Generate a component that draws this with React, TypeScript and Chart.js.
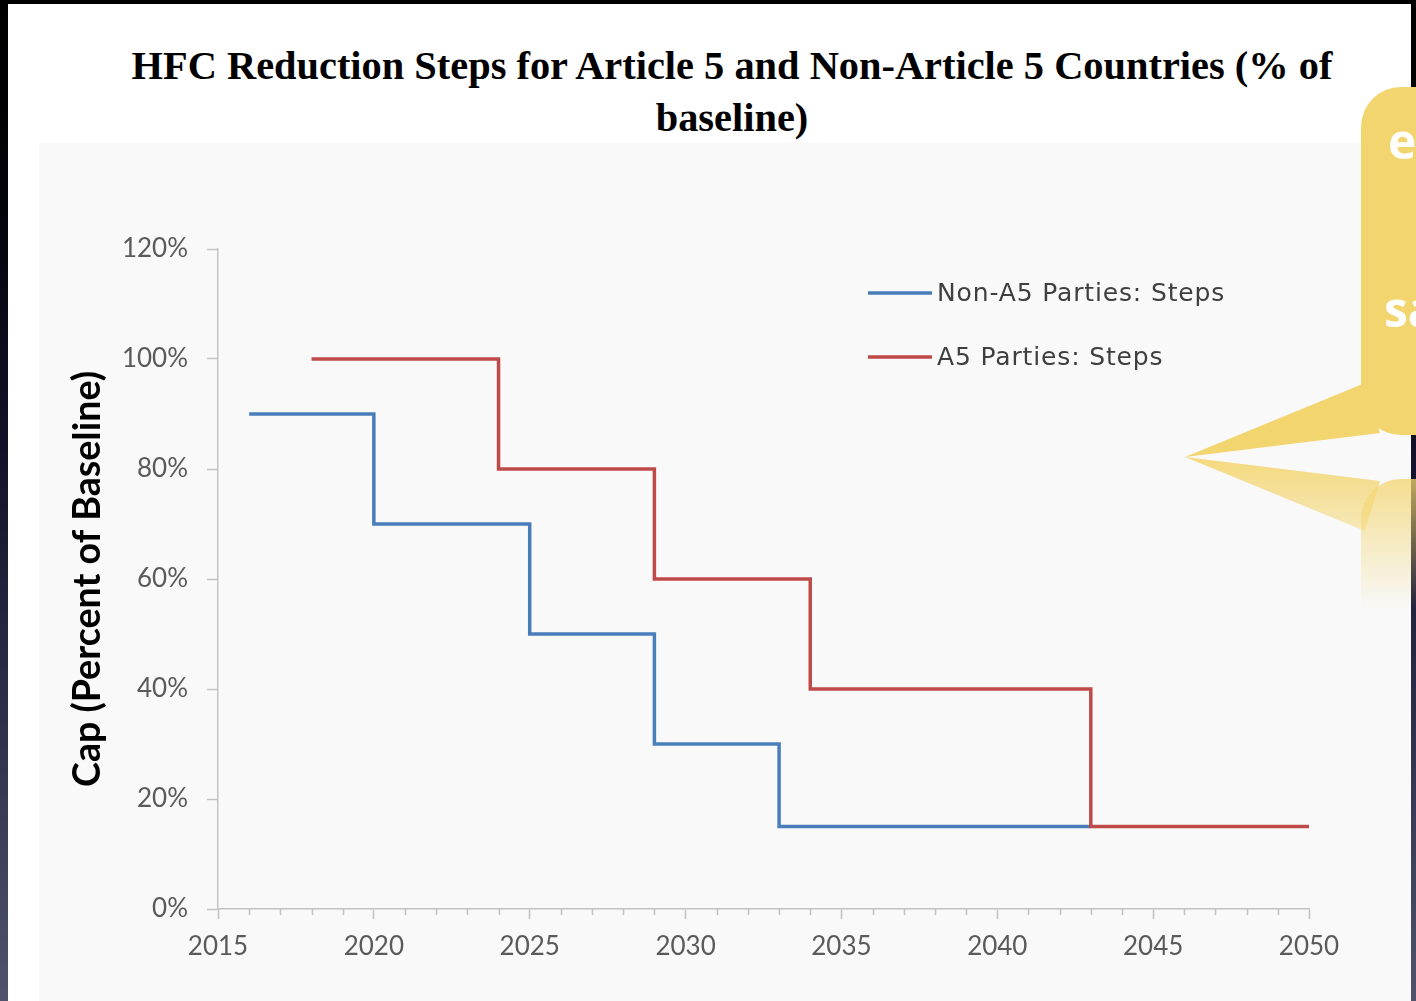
import React, { useEffect, useRef } from "react";
import { Chart, registerables } from "chart.js";

Chart.register(...registerables);

// ---- text ----
const TITLE_LINES = [
  "HFC Reduction Steps for Article 5 and Non-Article 5 Countries (% of",
  "baseline)",
];
const Y_TITLE = "Cap (Percent of Baseline)";
const SERIES_LABELS = ["Non-A5 Parties: Steps", "A5 Parties: Steps"];
const BUBBLE_TEXT = ["e", "sa"];

// ---- data (year at which a cap starts, cap in % of baseline) ----
const nonA5Years = [2016, 2020, 2025, 2029, 2033, 2043];
const nonA5Caps = [90, 70, 50, 30, 15, 15];
const a5Years = [2018, 2024, 2029, 2034, 2043, 2050];
const a5Caps = [100, 80, 60, 40, 15, 15];

// ---- axes ----
const xRange = [2015, 2050];
const xLabelYears = [2015, 2020, 2025, 2030, 2035, 2040, 2045, 2050];
const yTickValues = [0, 20, 40, 60, 80, 100, 120];

const BLUE = "#4a7ebb";
const RED = "#be4b48";
const AXIS = "#c3c3c3";
const TICK_TEXT = "#5a5a5a";

export default function App() {
  const canvasRef = useRef<HTMLCanvasElement | null>(null);

  useEffect(() => {
    document.body.style.margin = "0";
    const canvas = canvasRef.current;
    if (!canvas) return;

    const minorTicks = {
      id: "minorTicks",
      afterDraw(chart: any) {
        const s = chart.scales.x;
        const ctx = chart.ctx;
        ctx.save();
        ctx.strokeStyle = AXIS;
        ctx.lineWidth = 1.5;
        s.ticks.forEach((t: any) => {
          if (xLabelYears.includes(t.value)) return;
          const x = Math.round(s.getPixelForValue(t.value)) + 0.5;
          ctx.beginPath();
          ctx.moveTo(x, s.top);
          ctx.lineTo(x, s.top + 6);
          ctx.stroke();
        });
        ctx.restore();
      },
    };

    const legendPlugin = {
      id: "insideLegend",
      afterDraw(chart: any) {
        const { ctx, chartArea } = chart;
        ctx.save();
        chart.data.datasets.forEach((ds: any, i: number) => {
          const y = chartArea.top + 44 + i * 64;
          const x0 = chartArea.left + 650;
          ctx.strokeStyle = ds.borderColor;
          ctx.lineWidth = 3.5;
          ctx.beginPath();
          ctx.moveTo(x0, y);
          ctx.lineTo(x0 + 64, y);
          ctx.stroke();
          ctx.fillStyle = "#3f3f3f";
          ctx.font = "25px 'DejaVu Sans'";
          (ctx as any).letterSpacing = "0.85px";
          ctx.textBaseline = "middle";
          ctx.textAlign = "left";
          ctx.fillText(ds.label, x0 + 69, y + 1);
        });
        ctx.restore();
      },
    };

    const chart = new Chart(canvas, {
      type: "line",
      data: {
        datasets: [
          {
            label: SERIES_LABELS[0],
            data: nonA5Years.map((x, i) => ({ x, y: nonA5Caps[i] })),
            borderColor: BLUE,
            backgroundColor: BLUE,
            borderWidth: 3.5,
            stepped: "before",
            pointRadius: 0,
            fill: false,
            order: 1,
          },
          {
            label: SERIES_LABELS[1],
            data: a5Years.map((x, i) => ({ x, y: a5Caps[i] })),
            borderColor: RED,
            backgroundColor: RED,
            borderWidth: 3.5,
            stepped: "before",
            pointRadius: 0,
            fill: false,
            order: 0,
          },
        ],
      },
      options: {
        responsive: false,
        animation: false,
        layout: { padding: { top: 106, right: 102, bottom: 0, left: 0 } },
        plugins: {
          legend: { display: false },
          tooltip: { enabled: false },
          title: { display: false },
        },
        scales: {
          x: {
            type: "linear",
            min: xRange[0],
            max: xRange[1],
            ticks: {
              stepSize: 1,
              maxTicksLimit: 100,
              autoSkip: false,
              maxRotation: 0,
              minRotation: 0,
              padding: 12,
              color: TICK_TEXT,
              font: { family: "Lato", size: 26 },
              callback: (v: any) => (xLabelYears.includes(v) ? String(v) : ""),
            },
            grid: {
              drawOnChartArea: false,
              tickLength: 10,
              tickWidth: 1.5,
              tickColor: (c: any) =>
                c.tick && xLabelYears.includes(c.tick.value) ? AXIS : "rgba(0,0,0,0)",
            },
            border: { color: AXIS, width: 1.5 },
            afterFit: (s: any) => {
              s.height = 92;
            },
          },
          y: {
            type: "linear",
            min: 0,
            max: 120,
            afterBuildTicks: (s: any) => {
              s.ticks = yTickValues.map((v) => ({ value: v }));
            },
            ticks: {
              padding: 19,
              color: TICK_TEXT,
              font: { family: "Lato", size: 26 },
              callback: (v: any) => v + "%",
            },
            grid: {
              drawOnChartArea: false,
              tickLength: 11,
              tickWidth: 1.5,
              tickColor: AXIS,
            },
            border: { color: AXIS, width: 1.5 },
            title: {
              display: true,
              text: Y_TITLE,
              color: "#000",
              font: { family: "Lato", size: 37.6, weight: "bold" },
              padding: { top: 26, bottom: 0 },
            },
            afterFit: (s: any) => {
              s.width = 179;
            },
          },
        },
      } as any,
      plugins: [minorTicks, legendPlugin],
    });

    return () => chart.destroy();
  }, []);

  return (
    <div
      style={{
        position: "fixed",
        left: 0,
        top: 0,
        width: 1416,
        height: 1001,
        overflow: "hidden",
        background:
          "linear-gradient(180deg, #000 0%, #03030a 20%, #111228 45%, #2e304b 72%, #50536b 100%)",
      }}
    >
      {/* white slide */}
      <div
        style={{
          position: "absolute",
          left: 8,
          top: 4,
          width: 1403,
          height: 1000,
          background: "#ffffff",
        }}
      />
      {/* title */}
      <div
        style={{
          position: "absolute",
          left: 0,
          top: 40,
          width: 1464,
          textAlign: "center",
          fontFamily: "'Liberation Serif', 'Times New Roman', serif",
          fontWeight: "bold",
          fontSize: 40.4,
          lineHeight: "52px",
          color: "#000",
          whiteSpace: "nowrap",
        }}
      >
        {TITLE_LINES[0]}
        <br />
        {TITLE_LINES[1]}
      </div>
      {/* chart area */}
      <canvas
        ref={canvasRef}
        width={1372}
        height={858}
        style={{
          position: "absolute",
          left: 39,
          top: 143,
          width: 1372,
          height: 858,
          background: "#f9f9f9",
        }}
      />
      {/* callout bubble overlay */}
      <svg
        width={1416}
        height={1001}
        style={{ position: "absolute", left: 0, top: 0, pointerEvents: "none" }}
      >
        <defs>
          <linearGradient id="refl" x1="0" y1="457" x2="0" y2="610" gradientUnits="userSpaceOnUse">
            <stop offset="0" stopColor="#f3d56f" stopOpacity="0.9" />
            <stop offset="1" stopColor="#f3d56f" stopOpacity="0" />
          </linearGradient>
        </defs>
        {/* reflection */}
        <g fill="url(#refl)">
          <polygon points="1185,457 1380,481 1365,531" />
          <rect x={1361} y={479} width={120} height={348} rx={40} ry={40} />
        </g>
        {/* bubble */}
        <g fill="#f3d56f">
          <polygon points="1185,457 1365,383 1380,433" />
          <rect x={1361} y={87} width={120} height={348} rx={40} ry={40} />
        </g>
        <text
          x={1388}
          y={159}
          fill="#ffffff"
          fontFamily="'Open Sans', sans-serif"
          fontWeight="bold"
          fontSize={48}
        >
          {BUBBLE_TEXT[0]}
        </text>
        <text
          x={1384}
          y={327}
          fill="#ffffff"
          fontFamily="'Open Sans', sans-serif"
          fontWeight="bold"
          fontSize={48}
        >
          {BUBBLE_TEXT[1]}
        </text>
      </svg>
    </div>
  );
}
